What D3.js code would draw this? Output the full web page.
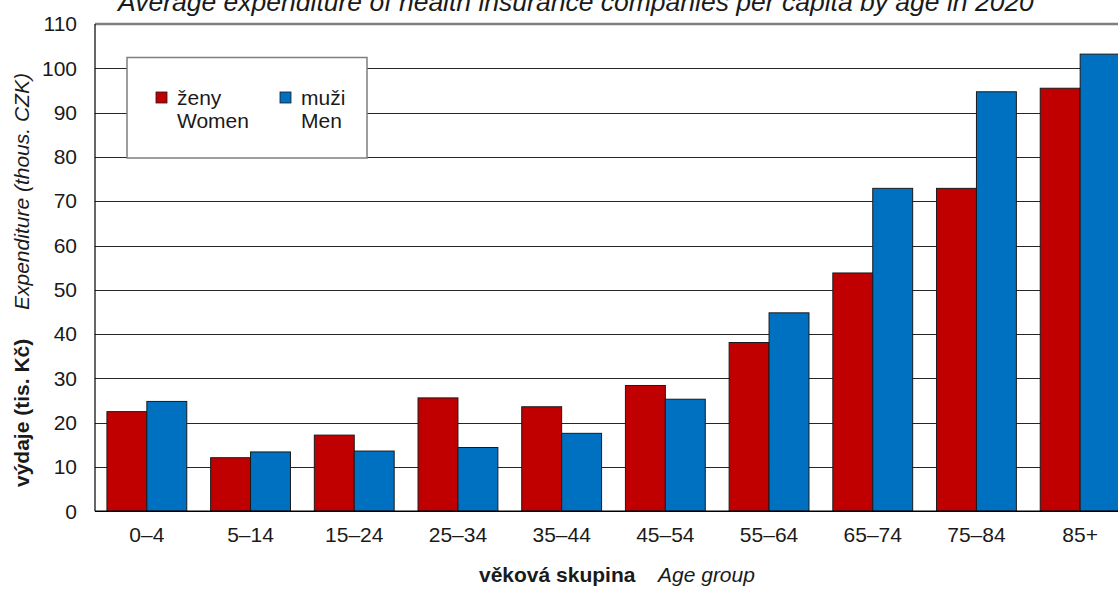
<!DOCTYPE html>
<html lang="cs">
<head>
<meta charset="utf-8">
<title>Average expenditure by age</title>
<script src="https://cdn.jsdelivr.net/npm/d3@7"></script>
<style>
  body { margin: 0; background: #fff; }
  svg { display: block; font-family: "Liberation Sans", Arial, sans-serif; }
</style>
</head>
<body>
<script>
// age groups and values (thous. CZK)
var ageGroups = ["0–4", "5–14", "15–24", "25–34", "35–44", "45–54", "55–64", "65–74", "75–84", "85+"];
var women = [22.5, 12.1, 17.2, 25.6, 23.6, 28.4, 38.1, 53.8, 72.9, 95.5];
var men = [24.8, 13.4, 13.6, 14.4, 17.6, 25.3, 44.8, 72.9, 94.7, 103.2];
var yTicks = [0, 10, 20, 30, 40, 50, 60, 70, 80, 90, 100, 110];

var w = 1118, h = 590;
var plotLeft = 95, plotRight = 1132, plotTop = 24, plotBottom = 511.3;

var svg = d3.select("body").append("svg")
  .attr("width", w)
  .attr("height", h);

var x = d3.scaleBand()
  .domain(ageGroups)
  .range([plotLeft, plotRight])
  .paddingInner(0.23)
  .paddingOuter(0.115);

var xSub = d3.scaleBand()
  .domain(["f", "m"])
  .range([0, x.bandwidth()]);

var y = d3.scaleLinear()
  .domain([0, 110])
  .range([plotBottom, plotTop]);

//gridlines
svg.append("g")
  .selectAll("line")
  .data(yTicks.filter(function(d) { return d > 0 && d < 110; }))
  .join("line")
  .attr("x1", plotLeft).attr("x2", w)
  .attr("y1", function(d) { return Math.round(y(d)) + 0.5; })
  .attr("y2", function(d) { return Math.round(y(d)) + 0.5; })
  .attr("stroke", "#262626")
  .attr("stroke-width", 1);

//top border line
svg.append("line")
  .attr("x1", plotLeft).attr("x2", w)
  .attr("y1", y(110)).attr("y2", y(110))
  .attr("stroke", "#7f7f7f")
  .attr("stroke-width", 2.5);

//bars
var rows = ageGroups.map(function(a, i) {
  return { age: a, vals: [{ k: "f", v: women[i] }, { k: "m", v: men[i] }] };
});
var color = { f: "#C00000", m: "#0070C0" };

svg.append("g")
  .selectAll("g")
  .data(rows)
  .join("g")
  .attr("transform", function(d) { return "translate(" + x(d.age) + ",0)"; })
  .selectAll("rect")
  .data(function(d) { return d.vals; })
  .join("rect")
  .attr("x", function(d) { return xSub(d.k); })
  .attr("y", function(d) { return y(d.v); })
  .attr("width", xSub.bandwidth())
  .attr("height", function(d) { return y(0) - y(d.v); })
  .attr("fill", function(d) { return color[d.k]; })
  .attr("stroke", "#1a1a1a")
  .attr("stroke-width", 1);

//axes
var yAxis = svg.append("g")
  .attr("transform", "translate(" + plotLeft + ",0)")
  .call(d3.axisLeft(y).tickValues(yTicks).tickSize(0).tickPadding(18));
yAxis.select(".domain").remove();
yAxis.selectAll("text").attr("font-size", 21).attr("fill", "#1a1a1a")
  .attr("font-family", "Liberation Sans, Arial, sans-serif");

var xAxis = svg.append("g")
  .attr("transform", "translate(0," + plotBottom + ")")
  .call(d3.axisBottom(x).tickSize(0).tickPadding(16));
xAxis.select(".domain").remove();
xAxis.selectAll("text").attr("font-size", 21).attr("fill", "#1a1a1a")
  .attr("font-family", "Liberation Sans, Arial, sans-serif");

svg.append("line")
  .attr("x1", plotLeft).attr("x2", plotLeft)
  .attr("y1", plotTop).attr("y2", plotBottom)
  .attr("stroke", "#000").attr("stroke-width", 1.2);
svg.append("line")
  .attr("x1", plotLeft).attr("x2", w)
  .attr("y1", plotBottom).attr("y2", plotBottom)
  .attr("stroke", "#000").attr("stroke-width", 1.5);

//title
svg.append("text")
  .attr("x", 118).attr("y", 11)
  .attr("font-size", 26.5).attr("font-style", "italic").attr("fill", "#1a1a1a")
  .text("Average expenditure of health insurance companies per capita by age in 2020");

//axis titles
svg.append("text")
  .attr("x", 479).attr("y", 582)
  .attr("font-size", 21).attr("font-weight", "bold").attr("fill", "#1a1a1a")
  .text("věková skupina");
svg.append("text")
  .attr("x", 658).attr("y", 582)
  .attr("font-size", 21).attr("font-style", "italic").attr("fill", "#1a1a1a")
  .text("Age group");

svg.append("text")
  .attr("transform", "translate(29,487) rotate(-90)")
  .attr("font-size", 21).attr("font-weight", "bold").attr("fill", "#1a1a1a")
  .text("výdaje (tis. Kč)");
svg.append("text")
  .attr("transform", "translate(29,310) rotate(-90)")
  .attr("font-size", 21).attr("font-style", "italic").attr("fill", "#1a1a1a")
  .text("Expenditure (thous. CZK)");

//legend
var legend = svg.append("g");
legend.append("rect")
  .attr("x", 127).attr("y", 57.5)
  .attr("width", 240).attr("height", 100.5)
  .attr("fill", "#fff").attr("stroke", "#7f7f7f").attr("stroke-width", 1.5);

var legendItems = [
  { k: "f", cz: "ženy", en: "Women", x: 156 },
  { k: "m", cz: "muži", en: "Men", x: 280 }
];
legendItems.forEach(function(it) {
  legend.append("rect")
    .attr("x", it.x).attr("y", 92)
    .attr("width", 11).attr("height", 11)
    .attr("fill", color[it.k]).attr("stroke", "#1a1a1a").attr("stroke-width", 0.8);
  legend.append("text")
    .attr("x", it.x + 21).attr("y", 105)
    .attr("font-size", 21).attr("fill", "#1a1a1a")
    .text(it.cz);
  legend.append("text")
    .attr("x", it.x + 21).attr("y", 128)
    .attr("font-size", 21).attr("fill", "#1a1a1a")
    .text(it.en);
});
</script>
</body>
</html>
